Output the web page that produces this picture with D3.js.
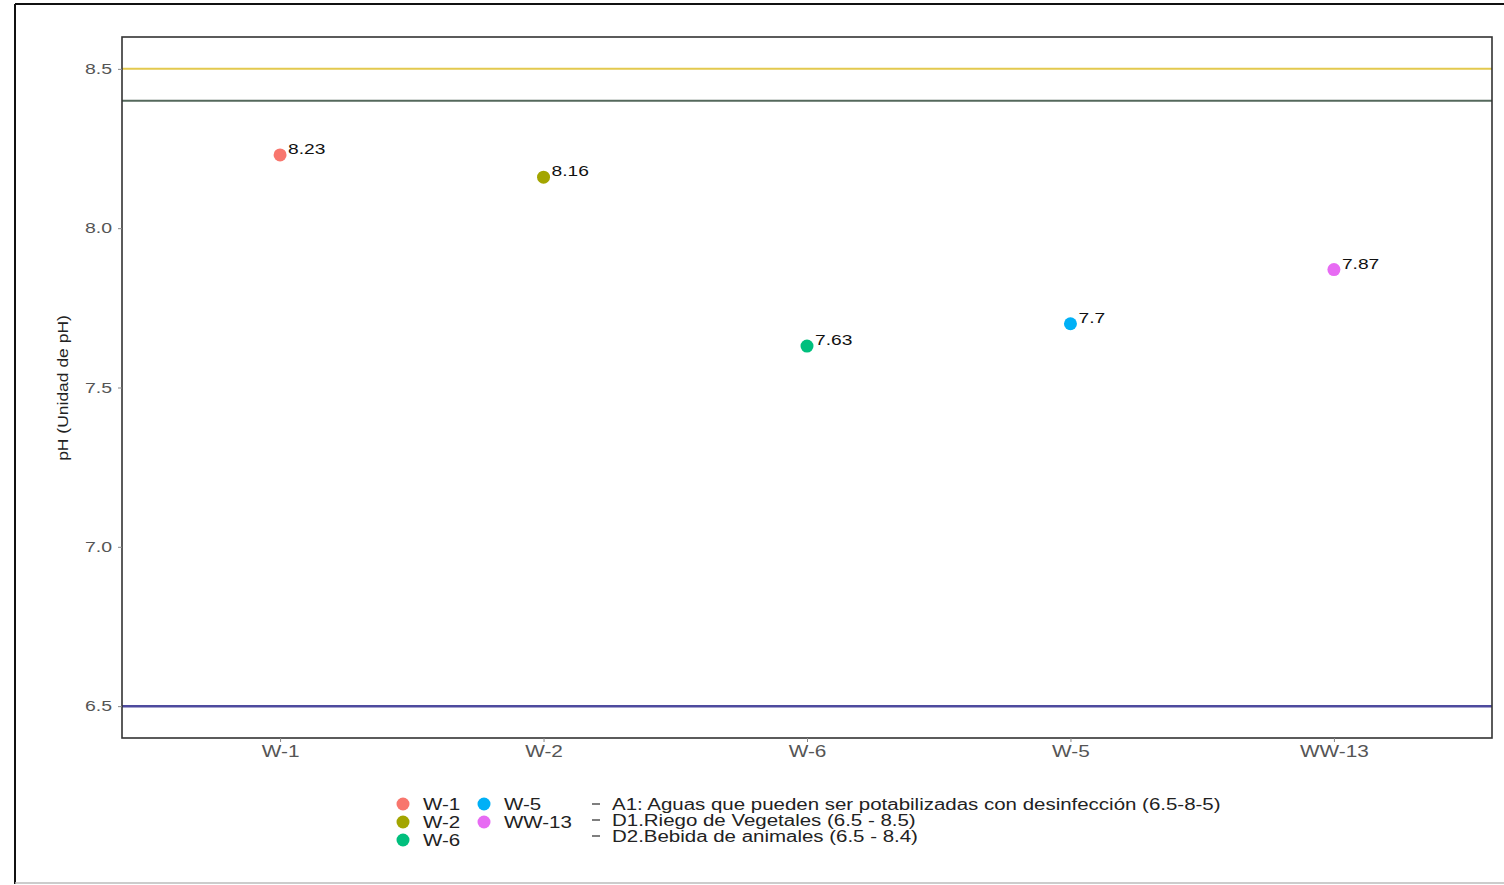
<!DOCTYPE html>
<html>
<head>
<meta charset="utf-8">
<script src="https://cdn.jsdelivr.net/npm/d3@7"></script>
<style>
  html, body { margin: 0; padding: 0; background: #ffffff; }
  svg { display: block; font-family: "Liberation Sans", Arial, sans-serif; }
  .sx-end { transform-box: fill-box; transform-origin: 100% 50%; transform: scaleX(1.3); }
  .sx-mid { transform-box: fill-box; transform-origin: 50% 50%; transform: scaleX(1.3); }
</style>
</head>
<body>
<svg id="chart" width="1504" height="885"></svg>
<script>
// ---- data ----
const sites = ["W-1", "W-2", "W-6", "W-5", "WW-13"];
const phValues = [8.23, 8.16, 7.63, 7.7, 7.87];
const siteColors = ["#F8766D", "#A3A500", "#00BF7D", "#00B0F6", "#E76BF3"];
const yTicks = [6.5, 7.0, 7.5, 8.0, 8.5];
const limitLabels = [
  "A1: Aguas que pueden ser potabilizadas con desinfección (6.5-8-5)",
  "D1.Riego de Vegetales (6.5 - 8.5)",
  "D2.Bebida de animales (6.5 - 8.4)"
];
const limitValues = [8.5, 8.4, 6.5];
const limitColors = ["#E3C94E", "#55695C", "#4E4B9E"];
const yTitle = "pH (Unidad de pH)";

// ---- layout ----
const svg = d3.select("#chart");
const panel = { left: 122, right: 1492, top: 37, bottom: 738 };
const SX = 1.28;

// outer frame
svg.append("line").attr("x1", 15).attr("x2", 15).attr("y1", 4).attr("y2", 884)
  .attr("stroke", "#111").attr("stroke-width", 2);
svg.append("line").attr("x1", 15).attr("x2", 1504).attr("y1", 4).attr("y2", 4)
  .attr("stroke", "#111").attr("stroke-width", 2);
svg.append("line").attr("x1", 15).attr("x2", 1504).attr("y1", 883).attr("y2", 883)
  .attr("stroke", "#bbb").attr("stroke-width", 1.5);

const x = d3.scalePoint().domain(sites)
  .range([panel.left, panel.right]).padding(0.6);
const y = d3.scaleLinear().domain([6.4, 8.6])
  .range([panel.bottom, panel.top]);

// reference lines
svg.append("g").selectAll("line").data(limitValues).join("line")
  .attr("x1", panel.left).attr("x2", panel.right)
  .attr("y1", d => y(d)).attr("y2", d => y(d))
  .attr("stroke", (d, i) => limitColors[i])
  .attr("stroke-width", (d, i) => i === 2 ? 2.5 : 2);

// panel border
svg.append("rect")
  .attr("x", panel.left).attr("y", panel.top)
  .attr("width", panel.right - panel.left).attr("height", panel.bottom - panel.top)
  .attr("fill", "none").attr("stroke", "#333").attr("stroke-width", 1.6);

// axes
const yAxis = svg.append("g").attr("transform", `translate(${panel.left},0)`)
  .call(d3.axisLeft(y).tickValues(yTicks).tickFormat(d3.format(".1f")).tickSize(4).tickPadding(6));
yAxis.select(".domain").remove();
yAxis.selectAll("line").attr("stroke", "#888");
yAxis.selectAll("text").attr("fill", "#555").attr("font-size", 15)
  .attr("font-family", "Liberation Sans, Arial, sans-serif").attr("class", "sx-end");

const xAxis = svg.append("g").attr("transform", `translate(0,${panel.bottom})`)
  .call(d3.axisBottom(x).tickSize(4).tickPadding(4));
xAxis.select(".domain").remove();
xAxis.selectAll("line").attr("stroke", "#888");
xAxis.selectAll("text").attr("fill", "#555").attr("font-size", 16)
  .attr("font-family", "Liberation Sans, Arial, sans-serif").attr("class", "sx-mid");

// y title
svg.append("text")
  .attr("transform", `translate(68,388) rotate(-90) scale(1.25,1)`)
  .attr("text-anchor", "middle").attr("font-size", 14).attr("fill", "#222")
  .text(yTitle);

// points
svg.append("g").selectAll("circle").data(sites).join("circle")
  .attr("cx", d => x(d)).attr("cy", (d, i) => y(phValues[i]))
  .attr("r", 6.5).attr("fill", (d, i) => siteColors[i]);

// value labels
svg.append("g").selectAll("text").data(sites).join("text")
  .attr("transform", (d, i) => `translate(${x(d) + 8},${y(phValues[i]) - 1}) scale(${SX},1)`)
  .attr("font-size", 15).attr("fill", "#111")
  .text((d, i) => String(phValues[i]));

// legend: points
const leg = svg.append("g").attr("font-size", 16).attr("fill", "#222");
const legRowsY = [804, 822, 840];
sites.forEach((s, i) => {
  const col = Math.floor(i / 3), row = i % 3;
  const cx = 403 + col * 81;
  leg.append("circle").attr("cx", cx).attr("cy", legRowsY[row])
    .attr("r", 6.5).attr("fill", siteColors[i]);
  leg.append("text")
    .attr("transform", `translate(${cx + 20},${legRowsY[row] + 6}) scale(${SX},1)`)
    .attr("fill", "#222").text(s);
});
// legend: lines
const lineRowsY = [804, 820, 836];
limitLabels.forEach((lab, i) => {
  leg.append("line").attr("x1", 592).attr("x2", 600)
    .attr("y1", lineRowsY[i]).attr("y2", lineRowsY[i])
    .attr("stroke", "#555").attr("stroke-width", 1.5);
  leg.append("text")
    .attr("transform", `translate(612,${lineRowsY[i] + 6}) scale(${SX},1)`)
    .attr("fill", "#222").text(lab);
});
</script>
</body>
</html>
